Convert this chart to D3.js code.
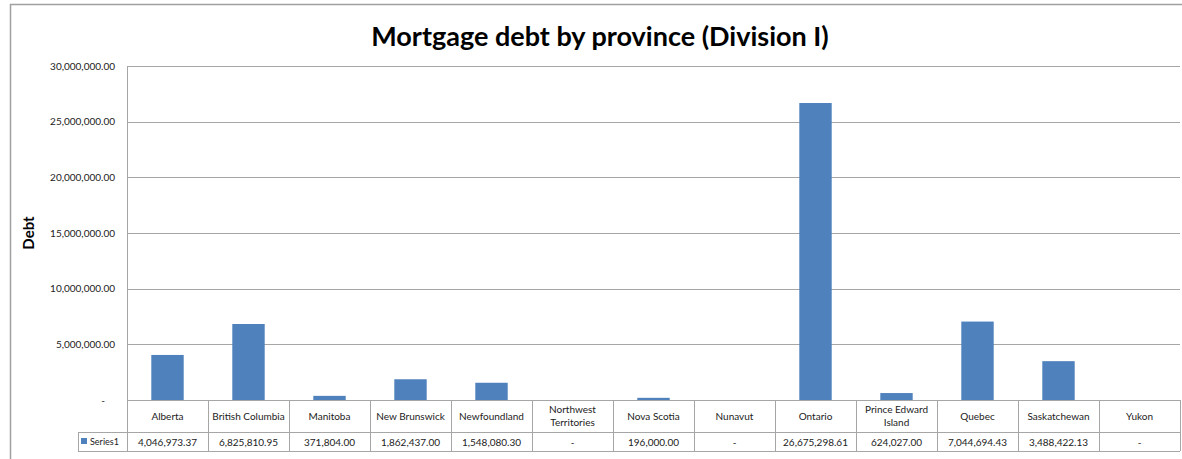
<!DOCTYPE html>
<html><head><meta charset="utf-8">
<script src="https://cdn.jsdelivr.net/npm/d3@7"></script>
<style>
body{margin:0;background:#fff;}
svg{display:block;font-family:Lato, "Open Sans", sans-serif;}
</style></head>
<body><svg id="c" width="1182" height="459"></svg>
<script>
const categories = ["Alberta","British Columbia","Manitoba","New Brunswick","Newfoundland","Northwest Territories","Nova Scotia","Nunavut","Ontario","Prince Edward Island","Quebec","Saskatchewan","Yukon"];
const catLines = [["Alberta"],["British Columbia"],["Manitoba"],["New Brunswick"],["Newfoundland"],["Northwest","Territories"],["Nova Scotia"],["Nunavut"],["Ontario"],["Prince Edward","Island"],["Quebec"],["Saskatchewan"],["Yukon"]];
const series1 = [4046973.37,6825810.95,371804.00,1862437.00,1548080.30,0,196000.00,0,26675298.61,624027.00,7044694.43,3488422.13,0];
const yTicks = [0,5000000,10000000,15000000,20000000,25000000,30000000];
const seriesName = "Series1";
const title = "Mortgage debt by province (Division I)";
const yTitle = "Debt";

const svg = d3.select("#c");
const L = 127, R = 1180, T = 66, B = 400;
const row1B = 432, row2B = 451, legL = 78;
const grid = "#a6a6a6", barColor = "#4f81bd";

// outer frame
svg.append("rect").attr("x",10.5).attr("y",4.5).attr("width",1200).attr("height",500)
  .attr("fill","none").attr("stroke","#a0a0a0").attr("stroke-width",1.5);

const x = d3.scaleBand().domain(categories).range([L,R]).paddingInner(0).paddingOuter(0);
const y = d3.scaleLinear().domain([0,30000000]).range([B,T]);
const fmt = d3.format(",.2f");

// gridlines
svg.append("g").selectAll("line").data(yTicks).join("line")
  .attr("x1",L).attr("x2",R).attr("y1",d=>Math.round(y(d))+0.5).attr("y2",d=>Math.round(y(d))+0.5)
  .attr("stroke",grid).attr("stroke-width",1);
svg.append("line").attr("x1",L+0.5).attr("x2",L+0.5).attr("y1",T).attr("y2",B).attr("stroke",grid);

// y tick labels
svg.append("g").selectAll("text").data(yTicks).join("text")
  .attr("x",d=>d===0?103:115).attr("y",d=>y(d)+3.5)
  .attr("text-anchor",d=>d===0?"middle":"end")
  .attr("font-size",10).attr("fill","#222")
  .text(d=>d===0?"-":fmt(d));

// bars
const bw = x.bandwidth()/2.5;
svg.append("g").selectAll("rect").data(series1).join("rect")
  .attr("x",(d,i)=>x(categories[i])+(x.bandwidth()-bw)/2)
  .attr("width",bw)
  .attr("y",d=>y(d)).attr("height",d=>B-y(d))
  .attr("fill",barColor);

// data table
const tg = svg.append("g");
tg.append("line").attr("x1",L).attr("x2",R).attr("y1",B+0.5).attr("y2",B+0.5).attr("stroke",grid);
tg.append("line").attr("x1",legL).attr("x2",R).attr("y1",row1B+0.5).attr("y2",row1B+0.5).attr("stroke",grid);
tg.append("line").attr("x1",legL).attr("x2",R).attr("y1",row2B+0.5).attr("y2",row2B+0.5).attr("stroke",grid);
tg.append("line").attr("x1",legL+0.5).attr("x2",legL+0.5).attr("y1",row1B).attr("y2",row2B).attr("stroke",grid);
const edges = categories.map(c=>x(c)).concat([R]);
tg.selectAll("line.v").data(edges).join("line").attr("class","v")
  .attr("x1",d=>Math.round(d)+0.5).attr("x2",d=>Math.round(d)+0.5)
  .attr("y1",B).attr("y2",row2B).attr("stroke",grid);

categories.forEach((c,i)=>{
  const cx = x(c)+x.bandwidth()/2;
  const lines = catLines[i];
  const t = tg.append("text").attr("text-anchor","middle").attr("font-size",10).attr("fill","#222");
  const mid = (B+row1B)/2;
  lines.forEach((ln,j)=>{
    t.append("tspan").attr("x",cx).attr("y",mid+3.5+(j-(lines.length-1)/2)*13).text(ln);
  });
  tg.append("text").attr("x",cx).attr("y",(row1B+row2B)/2+4).attr("text-anchor","middle")
    .attr("font-size",10).attr("fill","#222").text(series1[i]===0?"-":fmt(series1[i]));
});
// legend cell
tg.append("rect").attr("x",81).attr("y",438).attr("width",6).attr("height",6).attr("fill",barColor);
tg.append("text").attr("x",90).attr("y",445).attr("font-size",9).attr("fill","#222").text(seriesName);

// titles
svg.append("text").attr("x",600).attr("y",46).attr("text-anchor","middle")
  .attr("font-size",27).attr("font-weight","bold").attr("fill","#000").text(title);
svg.append("text").attr("transform","translate(34,233) rotate(-90)").attr("text-anchor","middle")
  .attr("font-size",15).attr("font-weight","bold").attr("fill","#000").text(yTitle);
</script></body></html>
